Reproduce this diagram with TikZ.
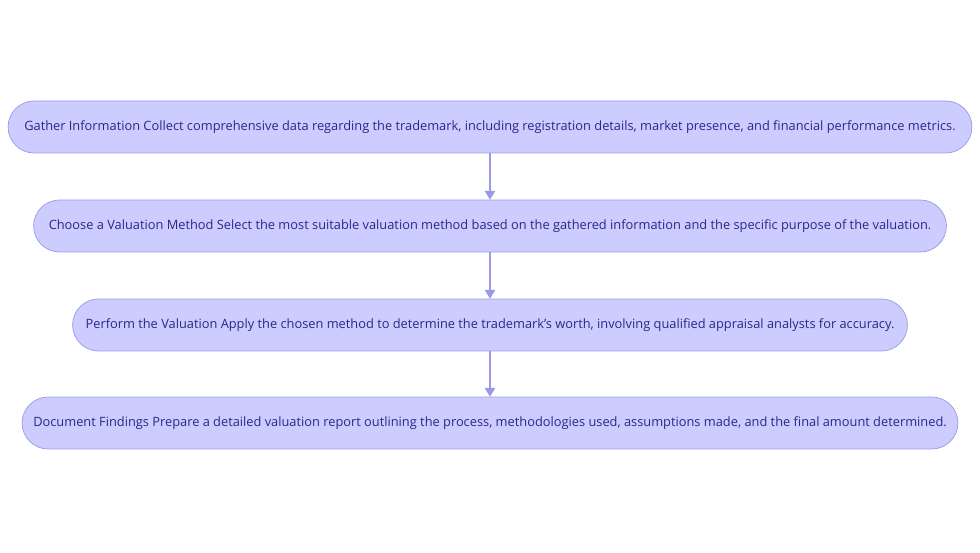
\documentclass[tikz,border=0pt]{standalone}
\usepackage{fontspec}
\setmainfont{Open Sans}
\definecolor{stepfill}{HTML}{CCCCFF}
\definecolor{stepline}{HTML}{9A9AE6}
\definecolor{steptext}{HTML}{28288A}
\tikzset{
  stepbox/.style={draw=stepline, fill=stepfill, text=steptext, rounded corners=0.52cm,
    minimum height=1.04cm, inner sep=0pt, font=\fontsize{7.3}{9}\selectfont},
  flow/.style={draw=stepline, line width=0.6pt, -{Triangle[length=5pt,width=6pt]}}
}
\usetikzlibrary{arrows.meta}
\begin{document}
\begin{tikzpicture}[x=0.02cm,y=-0.02cm]
                % Marco
                \useasboundingbox[fill=white] (0,0) rectangle (980,553);

                % Pasos
                \node[stepbox, minimum width=19.28cm] (gather) at (490,127) {Gather Information Collect comprehensive data regarding the trademark, including registration details, market presence, and financial performance metrics.};
                \node[stepbox, minimum width=18.26cm] (choose) at (490,226) {Choose a Valuation Method Select the most suitable valuation method based on the gathered information and the specific purpose of the valuation.};
                \node[stepbox, minimum width=16.70cm] (perform) at (490,325) {Perform the Valuation Apply the chosen method to determine the trademark's worth, involving qualified appraisal analysts for accuracy.};
                \node[stepbox, minimum width=18.72cm] (document) at (490,423) {Document Findings Prepare a detailed valuation report outlining the process, methodologies used, assumptions made, and the final amount determined.};

                % Flechas
                \draw[flow] (gather) -- (choose);
                \draw[flow] (choose) -- (perform);
                \draw[flow] (perform) -- (document);
\end{tikzpicture}
\end{document}
